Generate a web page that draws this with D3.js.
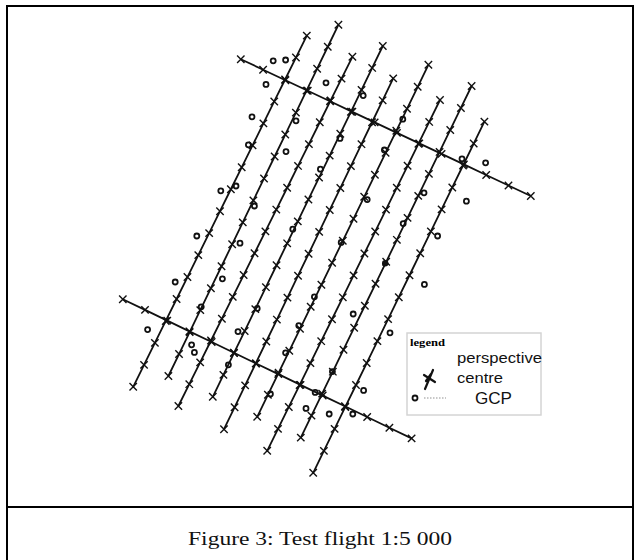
<!DOCTYPE html>
<html>
<head>
<meta charset="utf-8">
<script src="https://cdn.jsdelivr.net/npm/d3@7"></script>
<style>
body { margin: 0; background: #fff; }
</style>
</head>
<body>
<div id="chart"></div>
<script>
// flight strips, ground coords in metres (E, N), start = south end
var stripStartE = [33, 121, 146, 232, 260, 343, 368, 452, 483];
var stripStartN = [233, 260, 185, 208, 127, 158, 73, 106, 18];
var stripEndE = [467, 546, 581, 657, 683, 771, 800, 879, 911];
var stripEndN = [1111, 1138, 1058, 1085, 1004, 1038, 950, 985, 896];
var stripPhotos = [17, 17, 17, 17, 17, 17, 17, 17, 17];

// cross strips
var crossStartE = [302, 7];
var crossStartN = [1052, 452];
var crossEndE = [1027, 729];
var crossEndN = [710, 104];
var crossPhotos = [14, 14];

// ground control points
var gcpE = [383, 414, 365, 515, 608, 330, 440, 707, 321, 415, 550, 661, 501, 855, 914,
  290, 252, 618, 866, 760, 336, 708, 794, 192, 300, 432, 553, 138, 256, 203, 343, 486,
  761, 69, 295, 447, 583, 675, 179, 186, 414, 271, 531, 376, 488, 609, 465, 523, 582];
var gcpN = [1048, 1050, 989, 993, 961, 908, 898, 902, 838, 821, 854, 825, 777, 803, 793,
  735, 723, 701, 697, 718, 685, 641, 610, 610, 592, 627, 594, 495, 503, 433, 429, 458,
  489, 376, 371, 386, 415, 368, 338, 319, 318, 288, 271, 215, 219, 224, 179, 165, 165];

// highlighted perspective centre
var markedE = [663];
var markedN = [542];

var legendLabels = ["perspective", "centre", "GCP"];
var caption = "Figure 3: Test flight 1:5 000";

var W = 638, H = 560;
var svg = d3.select("#chart").append("svg")
  .attr("width", W)
  .attr("height", H);

var x = d3.scaleLinear().domain([0, 1000]).range([120, 520]);
var y = d3.scaleLinear().domain([0, 1200]).range([480, 0]);

// frame
svg.append("rect")
  .attr("x", 7).attr("y", 6)
  .attr("width", 626).attr("height", 570)
  .attr("fill", "none")
  .attr("stroke", "#000")
  .attr("stroke-width", 2);
svg.append("line")
  .attr("x1", 7).attr("x2", 633)
  .attr("y1", 507).attr("y2", 507)
  .attr("stroke", "#000")
  .attr("stroke-width", 2.2);

var plot = svg.append("g");

function photoCentres(e0, n0, e1, n1, n) {
  return d3.range(n).map(function(i) {
    var t = i / (n - 1);
    return [e0 + (e1 - e0) * t, n0 + (n1 - n0) * t];
  });
}

var lines = [];
stripStartE.forEach(function(d, i) {
  lines.push(photoCentres(stripStartE[i], stripStartN[i], stripEndE[i], stripEndN[i], stripPhotos[i]));
});
crossStartE.forEach(function(d, i) {
  lines.push(photoCentres(crossStartE[i], crossStartN[i], crossEndE[i], crossEndN[i], crossPhotos[i]));
});

var lineGen = d3.line()
  .x(function(d) { return x(d[0]); })
  .y(function(d) { return y(d[1]); });

plot.selectAll(".strip")
  .data(lines)
  .enter().append("path")
  .attr("class", "strip")
  .attr("d", lineGen)
  .attr("fill", "none")
  .attr("stroke", "#111")
  .attr("stroke-width", 1.8);

var r = 3.7;
var crossPath = "M" + (-r) + "," + (-r) + "L" + r + "," + r + "M" + (-r) + "," + r + "L" + r + "," + (-r);

plot.selectAll(".photo")
  .data(d3.merge(lines))
  .enter().append("path")
  .attr("class", "photo")
  .attr("transform", function(d) { return "translate(" + x(d[0]) + "," + y(d[1]) + ")"; })
  .attr("d", crossPath)
  .attr("fill", "none")
  .attr("stroke", "#111")
  .attr("stroke-width", 1.4);

plot.selectAll(".gcp")
  .data(gcpE)
  .enter().append("circle")
  .attr("class", "gcp")
  .attr("cx", function(d) { return x(d); })
  .attr("cy", function(d, i) { return y(gcpN[i]); })
  .attr("r", 2.5)
  .attr("fill", "none")
  .attr("stroke", "#111")
  .attr("stroke-width", 1.8);

plot.selectAll(".marked")
  .data(markedE)
  .enter().append("circle")
  .attr("class", "marked")
  .attr("cx", function(d) { return x(d); })
  .attr("cy", function(d, i) { return y(markedN[i]); })
  .attr("r", 3.2)
  .attr("fill", "#111");

// legend
var legend = svg.append("g").attr("transform", "translate(407,333)");
legend.append("rect")
  .attr("width", 134).attr("height", 82)
  .attr("fill", "#fff")
  .attr("stroke", "#d4d4d4")
  .attr("stroke-width", 1.5);
legend.append("text")
  .attr("x", 3).attr("y", 13)
  .attr("font-family", "Liberation Serif, serif")
  .attr("font-weight", "bold")
  .attr("font-size", 11)
  .attr("textLength", 35)
  .attr("lengthAdjust", "spacingAndGlyphs")
  .text("legend");

var lx = [50, 50, 68], ly = [30, 50, 71], lw = [85, 46, 37], ls = [15, 15, 16];
legend.selectAll(".lab")
  .data(legendLabels)
  .enter().append("text")
  .attr("class", "lab")
  .attr("x", function(d, i) { return lx[i]; })
  .attr("y", function(d, i) { return ly[i]; })
  .attr("font-family", "Liberation Sans, Arial, sans-serif")
  .attr("font-size", function(d, i) { return ls[i]; })
  .attr("textLength", function(d, i) { return lw[i]; })
  .attr("lengthAdjust", "spacingAndGlyphs")
  .attr("fill", "#111")
  .text(function(d) { return d; });

// perspective centre glyph
legend.append("path")
  .attr("d", "M26,37L18,56M17,42L28,49M24,41L19,48")
  .attr("fill", "none")
  .attr("stroke", "#111")
  .attr("stroke-width", 2.2)
  .attr("stroke-linecap", "round");

legend.append("circle")
  .attr("cx", 8).attr("cy", 65)
  .attr("r", 2.5)
  .attr("fill", "none")
  .attr("stroke", "#111")
  .attr("stroke-width", 1.8);
legend.append("line")
  .attr("x1", 17).attr("x2", 39)
  .attr("y1", 65).attr("y2", 65)
  .attr("stroke", "#c8c8c8")
  .attr("stroke-width", 2)
  .attr("stroke-dasharray", "1.5,1.5");

// caption
svg.append("text")
  .attr("x", 188).attr("y", 545)
  .attr("font-family", "Liberation Serif, Times New Roman, serif")
  .attr("font-size", 19)
  .attr("textLength", 264)
  .attr("lengthAdjust", "spacingAndGlyphs")
  .attr("fill", "#111")
  .text(caption);
</script>
</body>
</html>
